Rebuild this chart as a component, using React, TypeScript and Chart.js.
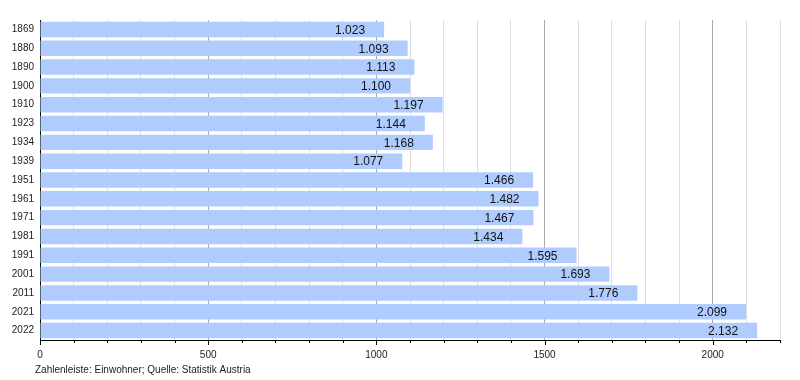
import React, { useEffect, useRef } from "react";
import { Chart, registerables } from "chart.js";

Chart.register(...registerables);

const years = ["1869","1880","1890","1900","1910","1923","1934","1939","1951","1961","1971","1981","1991","2001","2011","2021","2022"];
const population = [1023,1093,1113,1100,1197,1144,1168,1077,1466,1482,1467,1434,1595,1693,1776,2099,2132];
const xTickLabels = [0, 500, 1000, 1500, 2000];
const footerText = "Zahlenleiste: Einwohner; Quelle: Statistik Austria";

const FONT = "'Liberation Sans', Arial, sans-serif";

function fmt(v: number): string {
  return String(v).replace(/\B(?=(\d{3})+(?!\d))/g, ".");
}

const labelPlugin = {
  id: "valueLabels",
  afterDatasetsDraw(chart: any) {
    const ctx = chart.ctx;
    const meta = chart.getDatasetMeta(0);
    ctx.save();
    ctx.font = `12px ${FONT}`;
    ctx.fillStyle = "#111";
    ctx.textAlign = "right";
    ctx.textBaseline = "middle";
    meta.data.forEach((bar: any, i: number) => {
      ctx.fillText(fmt(population[i]), bar.x - 19, bar.y + 1);
    });
    ctx.restore();
  },
  afterDraw(chart: any) {
    const ctx = chart.ctx;
    const xs = chart.scales.x;
    const bottom = chart.chartArea.bottom;
    ctx.save();
    ctx.strokeStyle = "#000";
    ctx.lineWidth = 1;
    for (let v = 0; v <= 2200; v += 100) {
      const px = Math.round(xs.getPixelForValue(v)) + 0.5;
      const len = v % 500 === 0 ? 5 : 3;
      ctx.beginPath();
      ctx.moveTo(px, bottom);
      ctx.lineTo(px, bottom + len);
      ctx.stroke();
    }
    ctx.font = `10px ${FONT}`;
    ctx.fillStyle = "#222";
    ctx.textAlign = "left";
    ctx.textBaseline = "middle";
    ctx.fillText(footerText, 35, 370);
    ctx.restore();
  },
};

export default function App() {
  const ref = useRef<HTMLCanvasElement | null>(null);
  useEffect(() => {
    document.body.style.margin = "0";
    const chart = new Chart(ref.current as HTMLCanvasElement, {
      type: "bar",
      data: {
        labels: years,
        datasets: [
          {
            data: population,
            backgroundColor: "rgb(176,204,255)",
            borderWidth: 0,
            barPercentage: 0.82,
            categoryPercentage: 1,
          },
        ],
      },
      options: {
        indexAxis: "y",
        animation: false,
        responsive: false,
        maintainAspectRatio: false,
        layout: { padding: { top: 20, right: 20, left: 0, bottom: 0 } },
        plugins: { legend: { display: false }, tooltip: { enabled: false }, title: { display: false } },
        scales: {
          x: {
            min: 0,
            max: 2200,
            afterFit(scale: any) {
              scale.height = 40;
            },
            afterBuildTicks(scale: any) {
              const t = [];
              for (let v = 0; v <= 2200; v += 100) t.push({ value: v });
              scale.ticks = t;
            },
            border: { display: true, color: "#000", width: 1 },
            grid: {
              drawTicks: false,
              color: (c: any) => {
                const v = c.tick ? c.tick.value : 0;
                if (v === 0) return "rgba(0,0,0,0)";
                return v % 500 === 0 ? "#a8a8a8" : "#dedede";
              },
            },
            ticks: {
              autoSkip: false,
              maxRotation: 0,
              padding: 9,
              color: "#222",
              font: { family: FONT, size: 10 },
              callback: (v: any) => (xTickLabels.includes(Number(v)) ? String(v) : ""),
            },
          },
          y: {
            afterFit(scale: any) {
              scale.width = 40;
            },
            border: { display: true, color: "#000", width: 1 },
            grid: { display: false, drawTicks: false },
            ticks: {
              padding: 6,
              color: "#222",
              font: { family: FONT, size: 10 },
            },
          },
        },
      },
      plugins: [labelPlugin],
    } as any);
    return () => chart.destroy();
  }, []);
  return (
    <div style={{ width: 800, height: 380 }}>
      <canvas ref={ref} width={800} height={380} />
    </div>
  );
}
